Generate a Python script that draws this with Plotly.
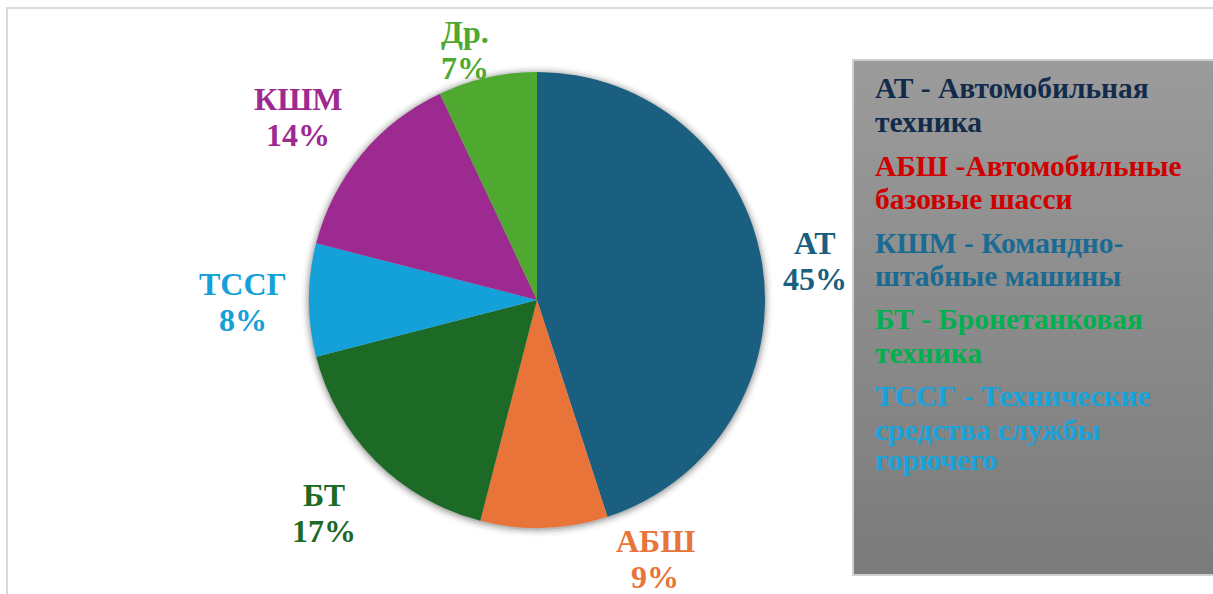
import plotly.graph_objects as go

W, H = 1213, 594

# ---- data ----
categories = ["АТ", "АБШ", "БТ", "ТССГ", "КШМ", "Др."]
shares = [45, 9, 17, 8, 14, 7]
slice_colors = ["#1a5f80", "#e8743a", "#1c6a26", "#14a0d8", "#9d2a91", "#4fa82f"]

legend_lines = [
    ("АТ - Автомобильная", "#122b4a"), ("техника", "#122b4a"),
    ("АБШ -Автомобильные", "#d00000"), ("базовые шасси", "#d00000"),
    ("КШМ - Командно-", "#1a6a92"), ("штабные машины", "#1a6a92"),
    ("БТ - Бронетанковая", "#00b04f"), ("техника", "#00b04f"),
    ("ТССГ - Технические", "#17a3dc"), ("средства службы", "#17a3dc"),
    ("горючего", "#17a3dc"),
]

# ---- layout constants (pixels) ----
cx, cy, R = 537, 300, 228
label_pos = {  # (x, y of first line) in pixels
    "АТ": (815, 243), "АБШ": (655, 541), "БТ": (324, 495),
    "ТССГ": (243, 284), "КШМ": (298, 99), "Др.": (465, 32),
}
line_gap = 36
legend_x = 873
legend_y = [88, 122, 166, 199, 243, 276, 319, 353, 396, 430, 460]
FONT = "Liberation Serif"


def px(x):
    return x / W


def py(y):
    return 1 - y / H


fig = go.Figure()
fig.add_trace(go.Pie(
    labels=categories, values=shares, sort=False, direction="clockwise",
    rotation=0, textinfo="none", hoverinfo="label+percent",
    marker=dict(colors=slice_colors, line=dict(width=0)),
    domain=dict(x=[px(cx - R), px(cx + R)], y=[py(cy + R), py(cy - R)]),
    showlegend=False,
))

shapes = []
# outer frame
shapes.append(dict(type="rect", xref="paper", yref="paper",
                   x0=px(7), y0=py(H + 20), x1=px(W + 20), y1=py(8),
                   line=dict(color="#d9d9d9", width=2), fillcolor="rgba(0,0,0,0)",
                   layer="below"))
# soft shadow around pie
for i, a in enumerate([0.10, 0.07, 0.05, 0.035, 0.02, 0.01]):
    r = R + 1 + i * 1.5
    shapes.append(dict(type="circle", xref="paper", yref="paper",
                       x0=px(cx - r), x1=px(cx + r), y0=py(cy + r + 1), y1=py(cy - r + 1),
                       line=dict(width=0), fillcolor=f"rgba(0,0,0,{a})", layer="below"))
# legend box with vertical gradient (overlapping bands, no seams)
bx0, by0, bx1, by1 = 853, 60, W + 5, 575
n = 60
for i in range(n):
    t = i / (n - 1)
    c = int(round(0x9b + (0x7b - 0x9b) * t))
    ya = by0 + (by1 - by0) * i / n
    shapes.append(dict(type="rect", xref="paper", yref="paper",
                       x0=px(bx0), x1=px(bx1), y0=py(by1), y1=py(ya),
                       line=dict(width=0), fillcolor=f"rgb({c},{c},{c})"))
shapes.append(dict(type="rect", xref="paper", yref="paper",
                   x0=px(bx0), x1=px(bx1), y0=py(by1), y1=py(by0),
                   line=dict(color="#cfcfcf", width=2), fillcolor="rgba(0,0,0,0)"))

annotations = []
total = sum(shares)
for cat, val, col in zip(categories, shares, slice_colors):
    x, y = label_pos[cat]
    pct = f"{round(100 * val / total)}%"
    for k, txt in enumerate([cat, pct]):
        annotations.append(dict(
            x=px(x), y=py(y + k * line_gap), xref="paper", yref="paper",
            text=f"<b>{txt}</b>", showarrow=False, xanchor="center", yanchor="middle",
            font=dict(family=FONT, size=32, color=col)))

for (txt, col), y in zip(legend_lines, legend_y):
    annotations.append(dict(
        x=px(legend_x), y=py(y), xref="paper", yref="paper",
        text=f"<b>{txt}</b>", showarrow=False, xanchor="left", yanchor="middle",
        font=dict(family=FONT, size=29.5, color=col)))

fig.update_layout(
    width=W, height=H, margin=dict(l=0, r=0, t=0, b=0),
    paper_bgcolor="white", plot_bgcolor="white",
    shapes=shapes, annotations=annotations,
)

fig.write_html("out.html", config={"displayModeBar": False},
               post_script="document.body.style.margin='0';")
